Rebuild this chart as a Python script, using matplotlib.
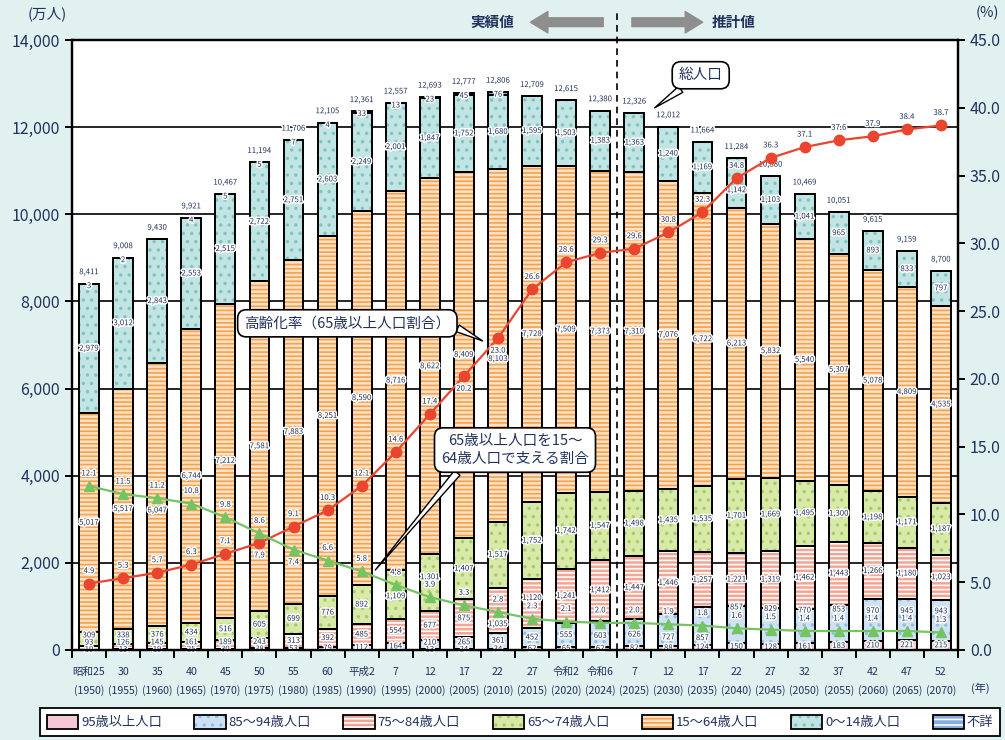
import matplotlib
matplotlib.use("Agg")
import matplotlib.pyplot as plt
import matplotlib.patheffects as pe
from matplotlib.patches import Patch
from matplotlib.legend_handler import HandlerTuple
from matplotlib.ticker import FuncFormatter, MultipleLocator
import numpy as np

plt.rcParams['font.family'] = ['Noto Sans CJK JP', 'DejaVu Sans']
plt.rcParams['hatch.linewidth'] = 1.2

# ---------------- data ----------------
era_labels = ["昭和25", "30", "35", "40", "45", "50", "55", "60", "平成2", "7", "12", "17", "22", "27",
              "令和2", "令和6", "7", "12", "17", "22", "27", "32", "37", "42", "47", "52"]
year_labels = ["1950", "1955", "1960", "1965", "1970", "1975", "1980", "1985", "1990", "1995", "2000",
               "2005", "2010", "2015", "2020", "2024", "2025", "2030", "2035", "2040", "2045", "2050",
               "2055", "2060", "2065", "2070"]
total_pop = [8411, 9008, 9430, 9921, 10467, 11194, 11706, 12105, 12361, 12557, 12693, 12777, 12806,
             12709, 12615, 12380, 12326, 12012, 11664, 11284, 10880, 10469, 10051, 9615, 9159, 8700]
pop_0_14 = [2979, 3012, 2843, 2553, 2515, 2722, 2751, 2603, 2249, 2001, 1847, 1752, 1680, 1595, 1503,
            1383, 1363, 1240, 1169, 1142, 1103, 1041, 965, 893, 833, 797]
pop_15_64 = [5017, 5517, 6047, 6744, 7212, 7581, 7883, 8251, 8590, 8716, 8622, 8409, 8103, 7728, 7509,
             7373, 7310, 7076, 6722, 6213, 5832, 5540, 5307, 5078, 4809, 4535]
pop_65_74 = [309, 338, 376, 434, 516, 605, 699, 776, 892, 1109, 1301, 1407, 1517, 1752, 1742, 1547,
             1498, 1435, 1535, 1701, 1669, 1495, 1300, 1198, 1171, 1187]
pop_75_84 = [93, 126, 145, 161, 189, 243, 313, 392, 485, 554, 677, 875, 1035, 1120, 1241, 1412, 1447,
             1446, 1257, 1221, 1319, 1462, 1443, 1266, 1180, 1023]
pop_85_94 = [10, 13, 19, 25, 30, 38, 53, 79, 112, 164, 210, 265, 361, 452, 555, 603, 626, 727, 857,
             857, 829, 770, 853, 970, 945, 943]
pop_95p = [0, 0, 0, 0, 0, 0, 0, 0, 0, 0, 13, 24, 34, 62, 65, 62, 82, 88, 124, 150, 128, 161, 183, 210,
           221, 215]
pop_unknown = [3, 2, 0, 4, 5, 5, 7, 4, 33, 13, 23, 45, 76, 0, 0, 0, 0, 0, 0, 0, 0, 0, 0, 0, 0, 0]
aging_rate = [4.9, 5.3, 5.7, 6.3, 7.1, 7.9, 9.1, 10.3, 12.1, 14.6, 17.4, 20.2, 23.0, 26.6, 28.6, 29.3,
              29.6, 30.8, 32.3, 34.8, 36.3, 37.1, 37.6, 37.9, 38.4, 38.7]
support_ratio = [12.1, 11.5, 11.2, 10.8, 9.8, 8.6, 7.4, 6.6, 5.8, 4.8, 3.9, 3.3, 2.8, 2.3, 2.1, 2.0,
                 2.0, 1.9, 1.8, 1.6, 1.5, 1.4, 1.4, 1.4, 1.4, 1.3]
legend_labels = ["95歳以上人口", "85～94歳人口", "75～84歳人口", "65～74歳人口", "15～64歳人口",
                 "0～14歳人口", "不詳"]

# ---------------- style ----------------
BG = '#e1f1ef'
TXT = '#22325e'
seg_styles = [  # bottom -> top: (face, hatch, hatch color)
    ('#f6c8d6', None, None),          # 95+
    ('#cfe2f4', '..', '#94bde6'),     # 85-94
    ('#f4a493', '----', '#ffffff'),   # 75-84
    ('#d9eaa8', '..', '#a4cc68'),     # 65-74
    ('#fde2c6', '----', '#f5a24e'),   # 15-64
    ('#c2e4e2', '..', '#7cc4c2'),     # 0-14
    ('#86addf', '---', '#ffffff'),    # unknown
]
series = [pop_95p, pop_85_94, pop_75_84, pop_65_74, pop_15_64, pop_0_14, pop_unknown]

fig = plt.figure(figsize=(10.05, 7.40), dpi=100, facecolor=BG)
ax = fig.add_axes([72 / 1005, 1 - 650 / 740, (958 - 72) / 1005, 610 / 740])
ax.set_facecolor('white')
n = len(year_labels)
x = np.arange(n)
W = 0.58

bottom = np.zeros(n)
for vals, (fc, hatch, hc) in zip(series, seg_styles):
    v = np.array(vals, dtype=float)
    ax.bar(x, v, W, bottom=bottom, color=fc, linewidth=0, zorder=2)
    if hatch:
        ax.bar(x, v, W, bottom=bottom, color='none', edgecolor=hc, linewidth=0, hatch=hatch, zorder=2.1)
    ax.bar(x, v, W, bottom=bottom, color='none', edgecolor='black', linewidth=1.4, zorder=2.2)
    bottom += v

ax.set_xlim(-0.5, n - 0.5)
ax.set_ylim(0, 14000)
ax.yaxis.set_major_locator(MultipleLocator(2000))
ax.yaxis.set_major_formatter(FuncFormatter(lambda v, p: f"{int(v):,}"))
ax.grid(axis='y', color='black', linewidth=1.2, zorder=1)
ax.set_axisbelow(True)
ax.set_xticks(x)
ax.set_xticklabels([f"{a}\n({b})" for a, b in zip(era_labels, year_labels)], fontsize=7.6,
                   color=TXT, linespacing=1.9)
ax.set_xticks(np.arange(-0.5, n, 1.0), minor=True)
ax.tick_params(axis='x', which='major', length=0, pad=12)
ax.tick_params(axis='x', which='minor', length=6, width=1.4, direction='out')
ax.tick_params(axis='y', labelsize=11.5, labelcolor=TXT, length=5, width=1.4)
for s in ax.spines.values():
    s.set_linewidth(1.6)

# dashed separator
ax.axvline(15.5, ymin=0, ymax=1.05, color='black', linestyle=(0, (4, 3)), linewidth=1.2,
           clip_on=False, zorder=5)

halo = [pe.withStroke(linewidth=2.2, foreground='white')]
lbl = dict(fontsize=5.6, color=TXT, ha='center', va='center', path_effects=halo, zorder=6)

# line label placement (above / below point), in points
red_off = [9] * n
grn_off = [9] * n
for i in (5, 11, 12):
    red_off[i] = -9
grn_off[6] = -9
PT2UNIT = 14000 / 610 * (100 / 72)   # left-axis units per point

obstacles = []   # per bar: list of (y, half-clearance) in left-axis units
for i in range(n):
    r = aging_rate[i] * 14000 / 45
    g = support_ratio[i] * 14000 / 45
    obstacles.append([(r, 260), (g, 260),
                      (r + red_off[i] * PT2UNIT, 170), (g + grn_off[i] * PT2UNIT, 170)])


def free(i, y):
    return all(abs(y - oy) >= c for oy, c in obstacles[i])


def place(i, yc, lo, hi):
    if free(i, yc):
        return yc
    for d in np.arange(40, 3000, 40):
        for cand in (yc + d, yc - d):
            if lo <= cand <= hi and free(i, cand):
                return cand
    return yc


# segment labels
cum = np.zeros(n)
bots = []
for vals in series:
    bots.append(cum.copy())
    cum += np.array(vals, dtype=float)
for i in range(n):
    prev = -1e9
    for k in range(4):
        v = series[k][i]
        if v <= 0:
            continue
        yc = bots[k][i] + v / 2
        y = max(yc, prev + 165)
        if k >= 1 and not free(i, y):
            y = place(i, y, prev + 165, bots[k][i] + v + 120)
        ax.text(x[i], y, f"{v:,}", **lbl)
        prev = y
    for k in (4, 5):
        v = series[k][i]
        lo = bots[k][i] + 150
        hi = bots[k][i] + v - 150
        y = place(i, bots[k][i] + v / 2, lo, hi)
        ax.text(x[i], y, f"{v:,}", **lbl)
    if pop_unknown[i] > 0:
        ax.text(x[i], total_pop[i] - 60, f"{pop_unknown[i]}", **lbl)
    ax.text(x[i], total_pop[i] + 260, f"{total_pop[i]:,}", **lbl)

# right axis lines
ax2 = ax.twinx()
ax2.set_ylim(0, 45)
ax2.yaxis.set_major_locator(MultipleLocator(5))
ax2.yaxis.set_major_formatter(FuncFormatter(lambda v, p: f"{v:.1f}"))
ax2.tick_params(axis='y', labelsize=11.5, labelcolor=TXT, length=5, width=1.4)
for s in ax2.spines.values():
    s.set_linewidth(1.6)
ax2.plot(x, aging_rate, color='#e9452f', linewidth=1.6, marker='o', markersize=7.5, zorder=4)
ax2.plot(x, support_ratio, color='#74c462', linewidth=1.6, marker='^', markersize=7.5, zorder=4)
for i in range(n):
    ax2.annotate(f"{aging_rate[i]:.1f}", (x[i], aging_rate[i]), xytext=(0, red_off[i]),
                 textcoords='offset points', **lbl)
    ax2.annotate(f"{support_ratio[i]:.1f}", (x[i], support_ratio[i]), xytext=(0, grn_off[i]),
                 textcoords='offset points', **lbl)

# callouts
box = dict(boxstyle='round,pad=0.45,rounding_size=0.6', fc='white', ec='black', lw=1.2)
ax2.annotate("総人口", xy=(16.6, 40.0), xytext=(17.95, 42.4), fontsize=10.5, color=TXT,
             ha='center', va='center', bbox=box, zorder=8,
             arrowprops=dict(arrowstyle='wedge,tail_width=0.5', fc='white', ec='black', lw=1.0,
                             shrinkA=0, shrinkB=0))
ax2.annotate("高齢化率（65歳以上人口割合）", xy=(11.55, 22.8), xytext=(7.58, 24.1), fontsize=10.5,
             color=TXT, ha='center', va='center', bbox=box, zorder=8,
             arrowprops=dict(arrowstyle='wedge,tail_width=0.5', fc='white', ec='black', lw=1.0,
                             shrinkA=0, shrinkB=0, relpos=(1.0, 0.4)))
ax2.annotate("65歳以上人口を15～\n64歳人口で支える割合", xy=(8.4, 5.9), xytext=(12.5, 14.75),
             fontsize=10.5, color=TXT, ha='center', va='center', bbox=box, zorder=8,
             linespacing=1.3,
             arrowprops=dict(arrowstyle='wedge,tail_width=0.5', fc='white', ec='black', lw=1.0,
                             shrinkA=0, shrinkB=0, relpos=(0.15, 0.0)))

# header arrows
fig.text(0.512, 0.970, "実績値", fontsize=10.5, color=TXT, ha='right', va='center', weight='bold')
fig.text(0.708, 0.970, "推計値", fontsize=10.5, color=TXT, ha='left', va='center', weight='bold')
arr = dict(arrowstyle='simple,head_width=1.1,head_length=0.9,tail_width=0.45', fc='#8e8e8e',
           ec='#8e8e8e', mutation_scale=14)
fig.add_artist(matplotlib.patches.FancyArrowPatch((0.603, 0.970), (0.525, 0.970),
                                                  transform=fig.transFigure, **arr))
fig.add_artist(matplotlib.patches.FancyArrowPatch((0.626, 0.970), (0.702, 0.970),
                                                  transform=fig.transFigure, **arr))

fig.text(0.027, 0.982, "(万人)", fontsize=10.5, color=TXT, ha='left', va='center')
fig.text(0.982, 0.982, "(%)", fontsize=10.5, color=TXT, ha='center', va='center')
fig.text(0.975, 0.0705, "(年)", fontsize=8, color=TXT, ha='center', va='center')

# legend
handles = []
for fc, hatch, hc in seg_styles:
    parts = [Patch(facecolor=fc, edgecolor='none', linewidth=0)]
    if hatch:
        parts.append(Patch(facecolor='none', edgecolor=hc, linewidth=0, hatch=hatch))
    parts.append(Patch(facecolor='none', edgecolor='black', linewidth=1.3))
    handles.append(tuple(parts))
leg = fig.legend(handles, legend_labels, handler_map={tuple: HandlerTuple(ndivide=1, pad=0)},
                 loc='center', bbox_to_anchor=(40 / 1005, 2 / 740, 960 / 1005, 32 / 740),
                 mode='expand', ncol=7, fontsize=9.5, frameon=True, fancybox=False,
                 edgecolor='black', facecolor='white', framealpha=1, borderaxespad=0,
                 handlelength=2.4, handleheight=1.3, handletextpad=0.2, columnspacing=0.6,
                 borderpad=0.5)
leg.get_frame().set_linewidth(1.3)
for t in leg.get_texts():
    t.set_color(TXT)

fig.savefig("out.png", dpi=100, facecolor=BG)
